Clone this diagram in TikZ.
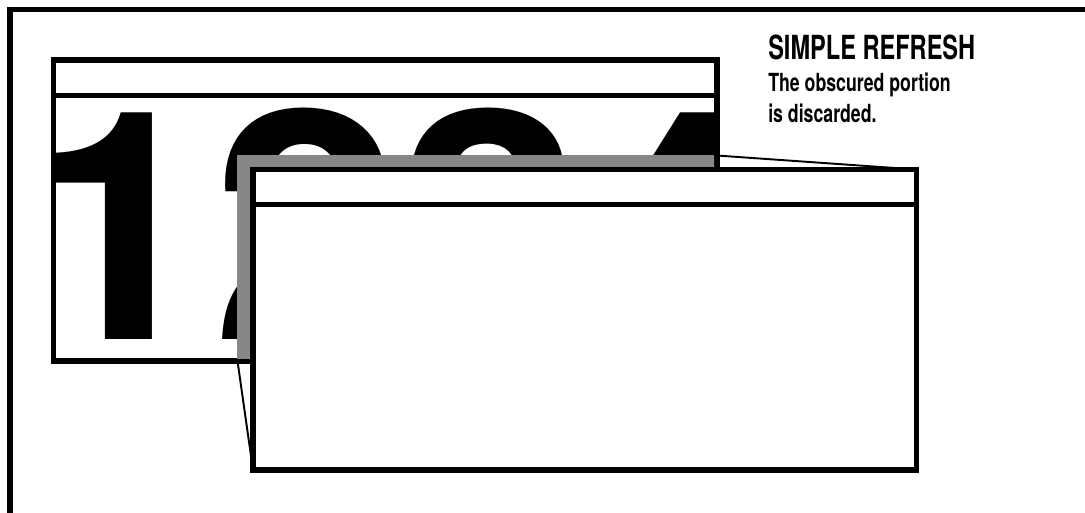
\documentclass[tikz,border=0pt]{standalone}
\usepackage{fontspec}
\setmainfont{TeX Gyre Heros}
\definecolor{shadegray}{HTML}{878787}
\tikzset{
  win/.style={draw=black,line width=3.2pt,fill=white},
  bar/.style={line width=2.6pt},
  guide/.style={line width=1.1pt},
  caption/.style={inner sep=0pt,anchor=base west,xscale=0.71}
}
\begin{document}
\begin{tikzpicture}[x=0.02cm,y=-0.02cm]
    \useasboundingbox (0,0) rectangle (1085,512);
    \clip (0,0) rectangle (1085,512);
    % outer frame, running off the right and bottom
    \draw[line width=3.4pt] (10,9.5) rectangle (1120,540);
    % back window
    \coordinate (bnw) at (53.5,60);
    \coordinate (bse) at (717,361);
    \draw[win] (bnw) rectangle (bse);
    \begin{scope}
        \clip (56,98) rectangle (714,358);
        \node[anchor=base west,inner sep=0pt,xscale=1.05,
              font=\bfseries\fontsize{182}{182}\selectfont] (digits) at (25,339) {1234};
        \fill[shadegray] (237,155) rectangle (740,380);
    \end{scope}
    \draw[bar] (bnw |- 0,95.5) -- (bse |- 0,95.5);
    % obscured portion and front window
    \coordinate (gne) at (717,155.5);
    \coordinate (gsw) at (237.5,361);
    \coordinate (fnw) at (253,169.5);
    \coordinate (fse) at (916.5,470);
    \draw[guide] (gne) -- (fse |- fnw);
    \draw[guide] (gsw) -- (fnw |- fse);
    \draw[win] (fnw) rectangle (fse);
    \draw[line width=2.3pt] (fnw |- 0,204.5) -- (fse |- 0,204.5);
    % caption
    \node[caption,font=\bfseries\fontsize{18.9}{20}\selectfont] (title) at (768,59) {SIMPLE REFRESH};
    \node[caption,font=\bfseries\fontsize{14.2}{16}\selectfont] (note) at (768,91) {The obscured portion};
    \node[caption,font=\bfseries\fontsize{14.2}{16}\selectfont] (note2) at (768,122) {is discarded.};
\end{tikzpicture}
\end{document}
